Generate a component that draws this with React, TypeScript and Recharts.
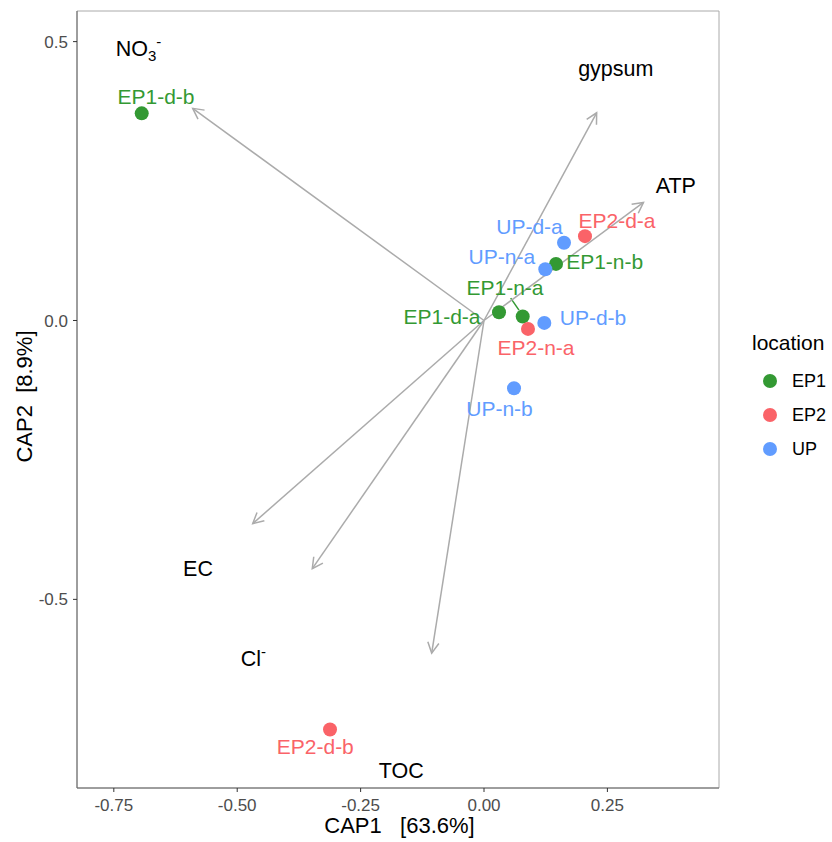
import React from 'react';
import { ScatterChart, Scatter, XAxis, YAxis, ReferenceLine, ReferenceArea } from 'recharts';

const FONT = '"Liberation Sans", Arial, Helvetica, sans-serif';

// ---- groups ----
const locations = ['EP1', 'EP2', 'UP'];
const locationColors = ['#339933', '#FA6368', '#619CFF'];

// ---- samples (site scores) ----
const sampleNames = ['EP1-d-b', 'EP1-d-a', 'EP1-n-a', 'EP1-n-b', 'EP2-d-b', 'EP2-d-a', 'EP2-n-a', 'UP-d-a', 'UP-n-a', 'UP-d-b', 'UP-n-b'];
const sampleLocation = ['EP1', 'EP1', 'EP1', 'EP1', 'EP2', 'EP2', 'EP2', 'UP', 'UP', 'UP', 'UP'];
const sampleCAP1 = [-0.6935, 0.0304, 0.0784, 0.1459, -0.312, 0.2046, 0.0891, 0.1621, 0.1242, 0.1222, 0.0608];
const sampleCAP2 = [0.3714, 0.0149, 0.0072, 0.1015, -0.7332, 0.1512, -0.0151, 0.1394, 0.092, -0.0043, -0.1215];
// repelled label positions (data units)
const labelCAP1 = [-0.6645, -0.0851, 0.0425, 0.2445, -0.3418, 0.2695, 0.1053, 0.0922, 0.0361, 0.2208, 0.0314];
const labelCAP2 = [0.4015, 0.0065, 0.0597, 0.106, -0.7643, 0.1799, -0.0483, 0.1686, 0.1148, 0.005, -0.157];
// label connector for EP1-n-a
const connectorFrom = [0.054, 0.040];
const connectorTo = [0.0709, 0.0186];

// ---- environmental vectors ----
const envMain = ['NO', 'gypsum', 'ATP', 'EC', 'Cl', 'TOC'];
const envSub = ['3', '', '', '', '', ''];
const envSup = ['-', '', '', '', '-', ''];
const envCAP1 = [-0.5902, 0.2282, 0.3231, -0.4686, -0.3479, -0.106];
const envCAP2 = [0.3803, 0.3724, 0.2117, -0.3642, -0.4449, -0.5963];
const envLabelCAP1 = [-0.7001, 0.267, 0.3886, -0.5794, -0.4674, -0.1678];
const envLabelCAP2 = [0.4885, 0.4517, 0.2422, -0.4444, -0.605, -0.8059];

// ---- axes ----
const xDomain = [-0.8246, 0.4761];
const yDomain = [-0.8382, 0.5549];
const xTicks = [-0.75, -0.5, -0.25, 0, 0.25];
const xTickLabels = ['-0.75', '-0.50', '-0.25', '0.00', '0.25'];
const yTicks = [-0.5, 0, 0.5];
const yTickLabels = ['-0.5', '0.0', '0.5'];
const xTitle = 'CAP1   [63.6%]';
const yTitle = 'CAP2  [8.9%]';
const legendTitle = 'location';

const colorOf = (loc: string) => locationColors[locations.indexOf(loc)];

const pointsByLoc = locations.map((loc) =>
  sampleNames
    .map((n, i) => ({ x: sampleCAP1[i], y: sampleCAP2[i], name: n, loc: sampleLocation[i] }))
    .filter((d) => d.loc === loc)
);
const sampleLabels = sampleNames.map((n, i) => ({ x: labelCAP1[i], y: labelCAP2[i], name: n, color: colorOf(sampleLocation[i]) }));
const envLabels = envMain.map((m, i) => ({ x: envLabelCAP1[i], y: envLabelCAP2[i], main: m, sub: envSub[i], sup: envSup[i] }));

const ARROW = '#ababab';

const ArrowShape = (props: any) => {
  const { x1, y1, x2, y2 } = props;
  const ang = Math.atan2(y2 - y1, x2 - x1);
  const len = 12;
  const spread = Math.PI / 6.5;
  const ax = x2 - len * Math.cos(ang - spread);
  const ay = y2 - len * Math.sin(ang - spread);
  const bx = x2 - len * Math.cos(ang + spread);
  const by = y2 - len * Math.sin(ang + spread);
  return (
    <g>
      <line x1={x1} y1={y1} x2={x2} y2={y2} stroke={ARROW} strokeWidth={1.5} />
      <polyline points={`${ax},${ay} ${x2},${y2} ${bx},${by}`} fill="none" stroke={ARROW} strokeWidth={1.5} />
    </g>
  );
};

const SegmentShape = (props: any) => {
  const { x1, y1, x2, y2 } = props;
  return <line x1={x1} y1={y1} x2={x2} y2={y2} stroke={locationColors[0]} strokeWidth={1.5} />;
};

const Dot = (color: string) => (props: any) => {
  const { cx, cy } = props;
  if (cx == null || cy == null) return <g />;
  return <circle cx={cx} cy={cy} r={7} fill={color} />;
};

const SampleLabel = (props: any) => {
  const { cx, cy, payload } = props;
  if (cx == null || cy == null) return <g />;
  return (
    <text x={cx} y={cy} dy="0.36em" textAnchor="middle" fill={payload.color} fontSize={21} fontFamily={FONT}>
      {payload.name}
    </text>
  );
};

const EnvLabel = (props: any) => {
  const { cx, cy, payload } = props;
  if (cx == null || cy == null) return <g />;
  return (
    <text x={cx} y={cy} dy="0.36em" textAnchor="middle" fill="#000" fontSize={21.5} fontFamily={FONT}>
      <tspan>{payload.main}</tspan>
      {payload.sub ? (
        <tspan dy={5} fontSize={15}>
          {payload.sub}
        </tspan>
      ) : null}
      {payload.sup ? (
        <tspan dy={payload.sub ? -14 : -9} fontSize={15}>
          {payload.sup}
        </tspan>
      ) : null}
    </text>
  );
};

const fmtX = (v: number) => {
  const i = xTicks.findIndex((t) => Math.abs(t - v) < 1e-9);
  return i >= 0 ? xTickLabels[i] : String(v);
};
const fmtY = (v: number) => {
  const i = yTicks.findIndex((t) => Math.abs(t - v) < 1e-9);
  return i >= 0 ? yTickLabels[i] : String(v);
};

const XTitle = (props: any) => {
  const vb = props.viewBox || { x: 77, y: 788, width: 642, height: 54 };
  return (
    <text x={vb.x + vb.width / 2 + 1.5} y={vb.y + 45.3} textAnchor="middle" fill="#000" fontSize={22} fontFamily={FONT} style={{ whiteSpace: 'pre' }}>
      {xTitle}
    </text>
  );
};

const YTitle = (props: any) => {
  const vb = props.viewBox || { x: 0, y: 11, width: 77, height: 777 };
  const cx = vb.x + 24;
  const cy = vb.y + vb.height / 2 - 3;
  return (
    <text
      x={cx}
      y={cy}
      dy="0.36em"
      textAnchor="middle"
      fill="#000"
      fontSize={22}
      fontFamily={FONT}
      transform={`rotate(-90 ${cx} ${cy})`}
      style={{ whiteSpace: 'pre' }}
    >
      {yTitle}
    </text>
  );
};

export default function App() {
  return (
    <div style={{ position: 'absolute', left: 0, top: 0, width: 832, height: 842, background: '#fff', fontFamily: FONT }}>
      <ScatterChart width={832} height={842} margin={{ top: 11, right: 113, bottom: 0, left: 0 }}>
        <XAxis
          type="number"
          dataKey="x"
          domain={xDomain}
          allowDataOverflow
          ticks={xTicks}
          tickFormatter={fmtX}
          height={54}
          tickSize={4}
          tickMargin={7}
          tick={{ fill: '#4d4d4d', fontSize: 17, fontFamily: FONT }}
          tickLine={{ stroke: '#333' }}
          axisLine={{ stroke: '#666' }}
          label={{ content: XTitle }}
        />
        <YAxis
          type="number"
          dataKey="y"
          domain={yDomain}
          allowDataOverflow
          ticks={yTicks}
          tickFormatter={fmtY}
          width={77}
          tickSize={4}
          tickMargin={5}
          tick={{ fill: '#4d4d4d', fontSize: 17, fontFamily: FONT }}
          tickLine={{ stroke: '#333' }}
          axisLine={{ stroke: '#666' }}
          label={{ content: YTitle }}
        />
        <ReferenceArea x1={xDomain[0]} x2={xDomain[1]} y1={yDomain[0]} y2={yDomain[1]} fill="none" fillOpacity={0} stroke="#aaaaaa" strokeOpacity={1} ifOverflow="visible" />
        {locations.map((loc, i) => (
          <Scatter key={loc} name={loc} data={pointsByLoc[i]} shape={Dot(locationColors[i])} isAnimationActive={false} />
        ))}
        <Scatter name="sample-labels" data={sampleLabels} shape={SampleLabel} isAnimationActive={false} />
        <ReferenceLine
          segment={[
            { x: connectorFrom[0], y: connectorFrom[1] },
            { x: connectorTo[0], y: connectorTo[1] },
          ]}
          shape={SegmentShape}
          ifOverflow="visible"
        />
        {envMain.map((m, i) => (
          <ReferenceLine
            key={m + i}
            segment={[
              { x: 0, y: 0 },
              { x: envCAP1[i], y: envCAP2[i] },
            ]}
            shape={ArrowShape}
            ifOverflow="visible"
          />
        ))}
        <Scatter name="env-labels" data={envLabels} shape={EnvLabel} isAnimationActive={false} />
      </ScatterChart>
      <div style={{ position: 'absolute', left: 752, top: 330, fontFamily: FONT }}>
        <div style={{ fontSize: 21, color: '#000', lineHeight: '26px', height: 34 }}>{legendTitle}</div>
        {locations.map((loc, i) => (
          <div key={loc} style={{ position: 'relative', height: 34, display: 'flex', alignItems: 'center' }}>
            <svg width={40} height={34} style={{ display: 'block' }}>
              <circle cx={18} cy={17} r={7} fill={locationColors[i]} />
            </svg>
            <span style={{ fontSize: 18, color: '#000' }}>{loc}</span>
          </div>
        ))}
      </div>
    </div>
  );
}
